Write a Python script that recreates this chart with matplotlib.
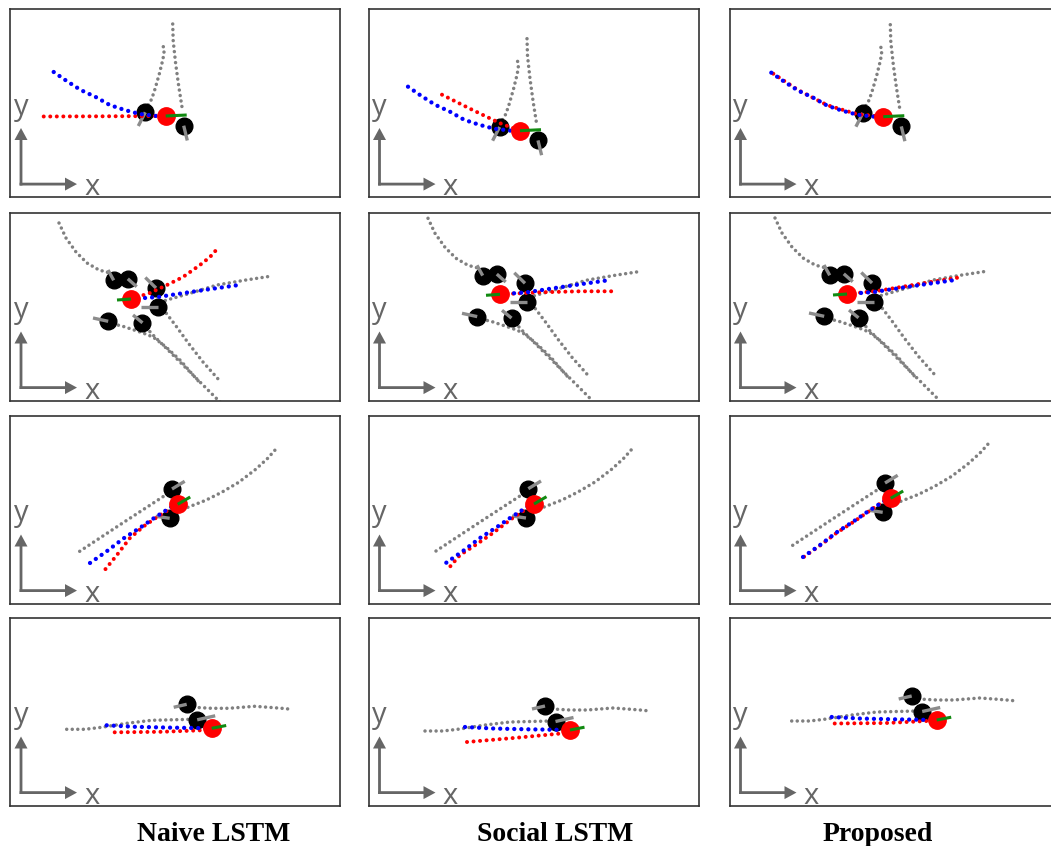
import matplotlib.pyplot as plt

# figure is laid out in pixels, each panel uses 1 data unit = 1 px
FIG_W, FIG_H = 1051, 846
PW, PH = 330, 188
col_left = [10, 368.5, 729.5]
row_top = [9.5, 213, 416, 618]
col_titles = ['Naive LSTM', 'Social LSTM', 'Proposed']
title_x = [214, 555.5, 877.5]

# ---- scene 1 (offsets from the target pedestrian, px, y down) ----
r1_gray = [
    [(-2.4, -69.3), (-1.4, -66), (-2.7, -57), (-6.4, -42), (-10.7, -27), (-14, -17), (-18.7, -8.7)],
    [(7, -92), (7.5, -75), (10, -52), (13, -30), (16.6, -7)],
]
r1_people = [(-20.4, -3.7), (18, 9.7)]
r1_people_dir = [(-27.4, 10), (21.6, 24.5)]
r1_heading = (21, -1)
r1_truth = [(-112, -44), (-99, -35), (-85, -26), (-70, -19), (-56, -11), (-41, -6), (-26, -2), (-9, 0), (0, 0)]
r1_naive = [(-122, 0.5), (-60, 0.3), (0, 0)]
r1_social = [(-78, -36), (-50, -22), (-20, -7.5), (0, 0)]
r1_proposed = [(-110, -43), (-85, -26.5), (-56, -11.5), (-26, -2.5), (0, 0)]
r1_origin = [(155.7, 106.5), (151.5, 121.2), (153.8, 107.2)]

# ---- scene 2 ----
r2_gray = [
    [(-72, -76), (-65, -61), (-55, -47), (-44, -36), (-32, -29), (-21, -26)],
    [(29, 3), (60, -6), (86, -14), (115, -19), (141, -23)],
    [(32, 10), (45, 27), (58, 45), (72, 63), (88, 81)],
    [(12, 24), (20, 34), (33, 47), (47, 61), (60, 74), (73, 87), (90, 104)],
    [(-18, 25), (-9, 27), (0, 30), (12, 34), (22, 38), (35, 48), (50, 62), (62, 76), (70, 85)],
]
r2_people = [(-17.3, -18.7), (-3.2, -20.2), (25, -11), (27.3, 8), (-22.8, 22.3), (11.5, 23.8)]
r2_people_dir = [(-23, -29), (5.7, -12.3), (14.3, -21.5), (10, 8), (-38, 19), (2, 16)]
r2_heading = (-14, 1)
r2_truth = [(0, 0), (27, -2), (53, -6), (80, -10), (108, -14)]
r2_naive = [(0, 0), (19, -6), (36, -14), (52, -22), (69, -34), (79, -42), (87, -51)]
r2_social = [(0, 0), (40, -2), (80, -3), (115, -3)]
r2_proposed = [(0, 0), (30, -3), (60, -8), (90, -13), (115, -17)]
r2_origin = [(121, 86), (131.5, 81.3), (117.5, 81)]

# ---- scene 3 ----
r3_gray = [
    [(-98, 47), (-54, 18), (-11, -10)],
    [(5, 5), (28, -4), (44, -12), (61, -22), (78, -35), (90, -46), (98, -55)],
]
r3_people = [(-5.7, -15.3), (-8, 14)]
r3_people_dir = [(7, -23), (-22, 12)]
r3_heading = (12.5, -7.3)
r3_truth = [(0, 0), (-7, 3), (-24, 14), (-37, 23), (-54, 34), (-71, 47), (-91, 61)]
r3_naive = [(0, 0), (-18, 11), (-34, 22), (-48, 34), (-61, 51), (-74, 67)]
r3_social = [(0, 0), (-20, 13), (-41, 29), (-60, 42), (-74, 51), (-86, 65)]
r3_proposed = [(0, 0), (-8, 3.5), (-24, 14.5), (-37, 23.5), (-54, 34.5), (-71, 47.5), (-91, 61.5)]
r3_origin = [(167.7, 88.3), (165.5, 88), (161.2, 82.3)]

# ---- scene 4 ----
r4_gray = [
    [(-18, -21), (0, -20), (17, -20), (30, -21), (43, -22), (57, -21), (70, -20), (80, -19)],
    [(-145, 1), (-127, 1), (-110, -1), (-85, -5), (-60, -8), (-40, -8.5), (-20, -9)],
]
r4_people = [(-25, -24), (-14.5, -8.5)]
r4_people_dir = [(-38, -21), (3.5, -12.5)]
r4_heading = (14.5, -2.8)
r4_truth = [(-105, -3), (-77, -1.5), (-43, -0.7), (0, 0)]
r4_naive = [(-97, 4), (-50, 3.5), (-10, 2), (0, 0)]
r4_social = [(-103, 12), (-53, 7.7), (-7, 3.3), (0, 0)]
r4_proposed = [(-102, 3.5), (-50, 3), (-10, 1), (0, 0)]
r4_origin = [(201.7, 110.3), (201.5, 112), (207.2, 102)]

scenes = [
    (r1_gray, r1_people, r1_people_dir, r1_heading, r1_truth, [r1_naive, r1_social, r1_proposed], r1_origin),
    (r2_gray, r2_people, r2_people_dir, r2_heading, r2_truth, [r2_naive, r2_social, r2_proposed], r2_origin),
    (r3_gray, r3_people, r3_people_dir, r3_heading, r3_truth, [r3_naive, r3_social, r3_proposed], r3_origin),
    (r4_gray, r4_people, r4_people_dir, r4_heading, r4_truth, [r4_naive, r4_social, r4_proposed], r4_origin),
]

PX = 0.72  # points per pixel at dpi 100


def dotted(ax, pts, ox, oy, color, dot_px, gap_px, z):
    lw = dot_px * PX
    ax.plot([ox + p[0] for p in pts], [oy + p[1] for p in pts], color=color, lw=lw,
            linestyle=(0, (0.01, gap_px * PX / lw)), dash_capstyle='round', zorder=z)


fig = plt.figure(figsize=(FIG_W / 100, FIG_H / 100), dpi=100)

for r, (gray, people, people_dir, heading, truth, preds, origin) in enumerate(scenes):
    for c in range(3):
        left, top = col_left[c], row_top[r]
        ax = fig.add_axes([left / FIG_W, 1 - (top + PH) / FIG_H, PW / FIG_W, PH / FIG_H])
        ax.set_xlim(0, PW)
        ax.set_ylim(PH, 0)
        ax.set_xticks([])
        ax.set_yticks([])
        for s in ax.spines.values():
            s.set_color('#333333')
            s.set_linewidth(1.2)

        ox, oy = origin[c]
        for g in gray:
            dotted(ax, g, ox, oy, '#808080', 3.5, 5.5, 1)
        for (px, py), (dx, dy) in zip(people, people_dir):
            ax.plot(ox + px, oy + py, 'o', color='black', ms=12, zorder=2)
            ax.plot([ox + px, ox + dx], [oy + py, oy + dy], color='#8c8c8c', lw=2.4,
                    solid_capstyle='butt', zorder=3)
        dotted(ax, preds[c], ox, oy, 'red', 4, 6.5, 4)
        dotted(ax, truth, ox, oy, 'blue', 4.3, 7, 5)
        ax.plot(ox, oy, 'o', color='red', ms=12.5, zorder=6)
        ax.plot([ox, ox + heading[0]], [oy, oy + heading[1]], color='#118a11', lw=2.2,
                solid_capstyle='butt', zorder=7)

        # x / y axis glyph in the lower left corner
        ax.arrow(11, 176, 0, -57.5, width=2.8, head_width=13, head_length=12,
                 length_includes_head=True, color='#666666', lw=0, zorder=8)
        ax.arrow(9.6, 174.6, 57.4, 0, width=2.8, head_width=13, head_length=12,
                 length_includes_head=True, color='#666666', lw=0, zorder=8)
        ax.text(11, 105, 'y', ha='center', va='baseline', fontsize=21,
                color='#666666', family='Open Sans')
        ax.text(82, 185.5, 'x', ha='center', va='baseline', fontsize=21,
                color='#666666', family='Open Sans')

for t, x in zip(col_titles, title_x):
    fig.text(x / FIG_W, 1 - 841 / FIG_H, t, ha='center', va='baseline', fontsize=20,
             fontweight='bold', family='Liberation Serif')

fig.savefig('out.png', dpi=100)
